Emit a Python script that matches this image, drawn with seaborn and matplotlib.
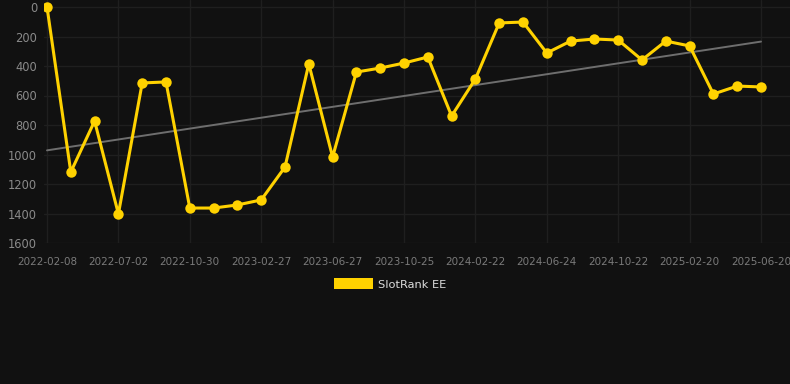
import numpy as np
import pandas as pd
import matplotlib
matplotlib.use("Agg")
import matplotlib.pyplot as plt
from matplotlib.patches import Patch
import seaborn as sns

# ---- data ----
ranks = [0, 1119, 773, 1403, 515, 508, 1363, 1363, 1342, 1308, 1085, 386, 1017,
         441, 414, 380, 339, 739, 488, 108, 102, 312, 231, 217, 224, 359, 231,
         264, 590, 536, 542]
tick_labels = ["2022-02-08", "2022-07-02", "2022-10-30", "2023-02-27", "2023-06-27",
               "2023-10-25", "2024-02-22", "2024-06-24", "2024-10-22", "2025-02-20",
               "2025-06-20"]
series_name = "SlotRank EE"
y_ticks = [0, 200, 400, 600, 800, 1000, 1200, 1400, 1600]

bg = "#111111"
grid_c = "#1f1f1f"
line_c = "#ffd200"
trend_c = "#6e6e6e"
text_c = "#8a8a8a"

df = pd.DataFrame({"idx": np.arange(len(ranks)), "rank": ranks})

sns.set_theme(style="dark")
plt.rcParams["font.family"] = ["DejaVu Sans"]

fig = plt.figure(figsize=(7.9, 3.84), dpi=100, facecolor=bg)
ax = fig.add_axes([44 / 790, 1 - 243 / 384, 1 - 44 / 790, 243 / 384])
ax.set_facecolor(bg)

# trend line (linear regression)
coef = np.polyfit(df["idx"], df["rank"], 1)
trend = pd.DataFrame({"idx": [0, len(ranks) - 1]})
trend["rank"] = np.polyval(coef, trend["idx"])
sns.lineplot(data=trend, x="idx", y="rank", ax=ax, color=trend_c, linewidth=1.4, zorder=2)

sns.lineplot(data=df, x="idx", y="rank", ax=ax, color=line_c, linewidth=2.2,
             marker="o", markersize=7.5, markeredgewidth=0, zorder=3)

ax.set_xlim(-3 / 23.8, (790 - 47) / 23.8)
ax.set_ylim(1600, -7 / 0.1475)
ax.set_xticks(np.arange(0, len(ranks), 3))
ax.set_xticklabels(tick_labels)
ax.set_yticks(y_ticks)
ax.set_yticklabels([str(v) for v in y_ticks])
ax.grid(True, color=grid_c, linewidth=1)
ax.tick_params(axis="x", colors=text_c, labelsize=7.5, length=7, width=1, color=grid_c, pad=3)
ax.tick_params(axis="y", colors=text_c, labelsize=8.3, length=0, pad=5)
for lab in ax.get_xticklabels():
    lab.set_color("#7a7a7a")
ax.set_xlabel("")
ax.set_ylabel("")
for s in ax.spines.values():
    s.set_visible(False)

handle = Patch(facecolor=line_c, edgecolor="none")
fig.legend([handle], [series_name], loc="center", bbox_to_anchor=(0.494, 1 - 284 / 384),
           frameon=False, fontsize=8.2, labelcolor="#dddddd", handlelength=3.4,
           handleheight=1.1, handletextpad=0.5)

fig.savefig("out.png", dpi=100, facecolor=bg)
